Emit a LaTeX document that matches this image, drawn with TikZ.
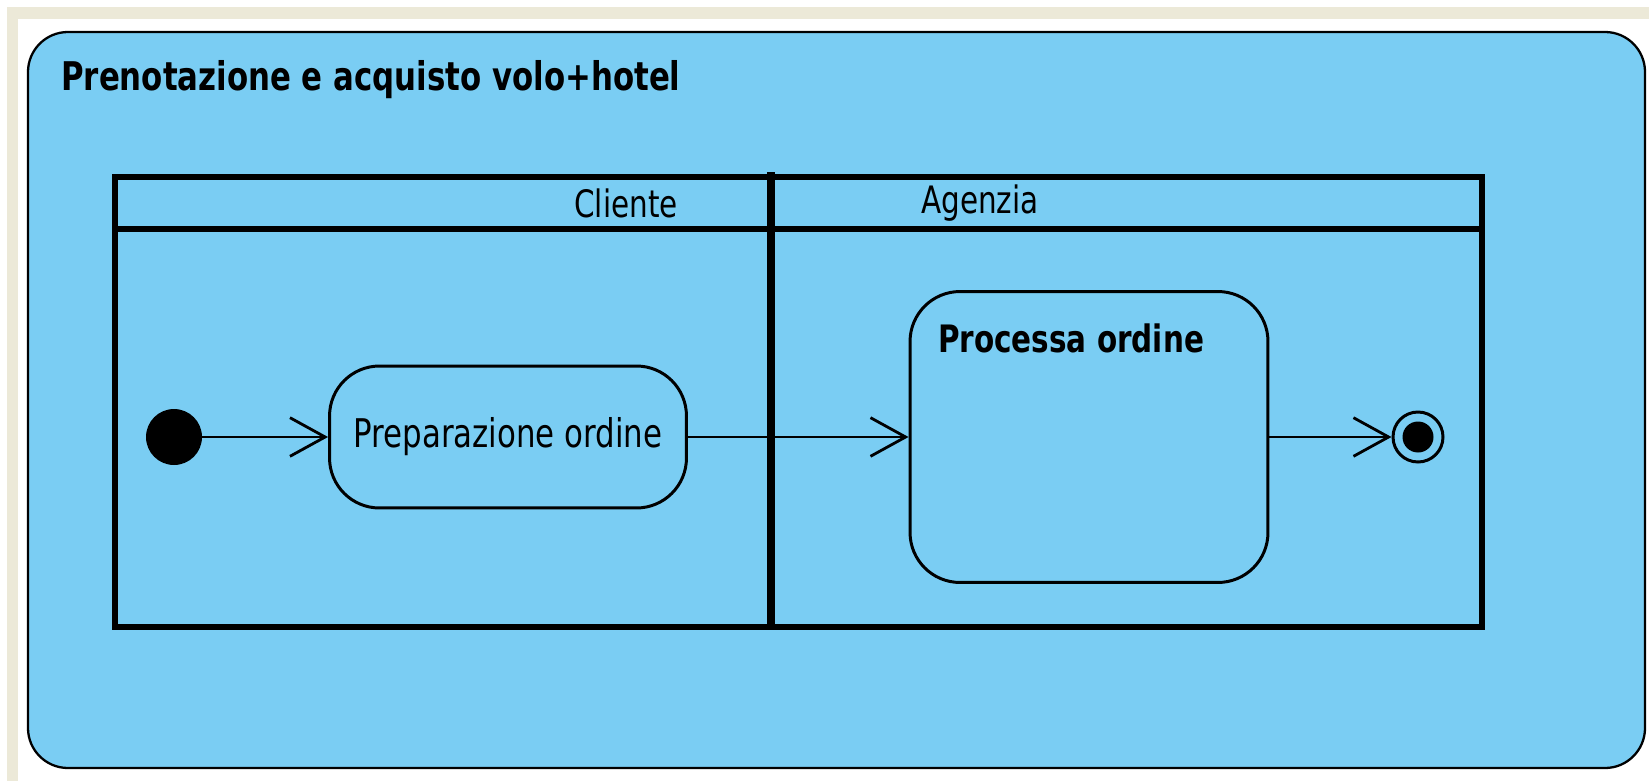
\documentclass[tikz,border=0pt]{standalone}
\usepackage{fontspec}
\setmainfont{DejaVu Sans}[FakeStretch=0.78]
\usetikzlibrary{arrows.meta}
\definecolor{lanefill}{RGB}{122,205,243}
\definecolor{panelbeige}{RGB}{236,233,216}

\begin{document}
\begin{tikzpicture}[x=0.02cm,y=-0.02cm,
    action/.style={draw,line width=1.7pt,rounded corners=1cm,fill=lanefill,inner sep=0pt},
    lanetext/.style={font=\fontsize{21.5}{25}\selectfont},
    flow/.style={-{Straight Barb[length=20pt,width=22pt,line width=1.6pt]},line width=1.6pt}]
                \useasboundingbox (0,0) rectangle (1649,781);
                \fill[white] (0,0) rectangle (1649,781);
                \fill[panelbeige] (7,7) rectangle (1649,19);
                \fill[panelbeige] (7,7) rectangle (18,781);
                \draw[fill=lanefill,line width=1.3pt,rounded corners=0.8cm] (28,32) rectangle (1645,768);
                \node[anchor=base west,font=\bfseries\fontsize{22.5}{26}\selectfont] (T) at (55,90) {Prenotazione e acquisto volo+hotel};
                \draw[line width=3.3pt] (115,177) rectangle (1482,627);
                \draw[line width=3.3pt] (115,229) -- (1482,229);
                \draw[line width=4.5pt] (771,172) -- (771,630);
                \node[lanetext] (L1) at (626,203) {Cliente};
                \node[lanetext] (L2) at (980,203) {Agenzia};
                \node[circle,fill=black,minimum size=1.12cm,inner sep=0pt] (A) at (174,437) {};
                \node[action,minimum width=7.14cm,minimum height=2.84cm,font=\fontsize{22.5}{26}\selectfont] (B) at (508,437) {Preparazione ordine};
                \node[action,minimum width=7.16cm,minimum height=5.82cm] (C) at (1089,437) {};
                \node[font=\bfseries\fontsize{21.5}{25}\selectfont] (D) at (1071,338) {Processa ordine};
                \node[circle,draw,line width=1.7pt,minimum size=1cm,inner sep=0pt] (E) at (1418,437) {};
                \node[circle,fill=black,minimum size=0.62cm,inner sep=0pt] (F) at (E) {};
                \draw [flow] (A) -- (B);
                \draw [flow] (B) -- (C);
                \draw [flow] (C) -- (E);
            \end{tikzpicture}
\end{document}
